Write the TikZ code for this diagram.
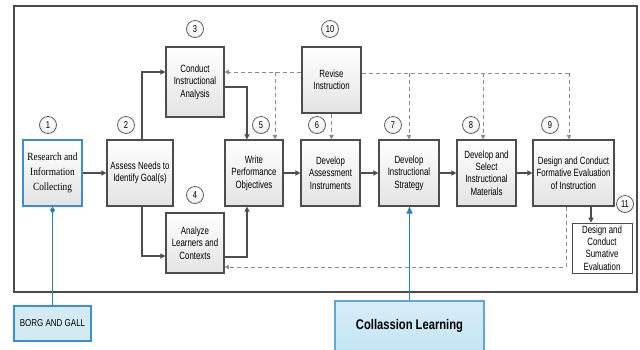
\documentclass[tikz,border=0pt]{standalone}
\usepackage{fontspec}
\setmainfont{Liberation Sans}
\newfontfamily\nar[FakeStretch=0.75]{Liberation Sans}
\newfontfamily\narb[FakeStretch=0.8]{Liberation Sans}
\newfontfamily\sernar[FakeStretch=0.85]{Liberation Serif}
\usetikzlibrary{arrows.meta,calc}
\definecolor{boxline}{HTML}{4D4D4D}
\definecolor{frameline}{HTML}{4A4A4A}
\definecolor{dashc}{HTML}{8C8C8C}
\definecolor{blueb}{HTML}{3A8ED4}
\definecolor{bluec}{HTML}{2E7DBE}
\definecolor{borgfill}{HTML}{D3EAF3}
\definecolor{collfill}{HTML}{C4E5F4}
\definecolor{collbd}{HTML}{62A6D6}
\begin{document}
\begin{tikzpicture}[x=1pt,y=-1pt,
  box/.style={draw=boxline, line width=1.2pt, top color=white, bottom color=gray!22,
    align=center, inner sep=0pt, font=\nar\fontsize{10.5}{12.3}\selectfont},
  circ/.style={circle, draw=gray!75!black, line width=0.8pt, top color=white, bottom color=gray!12,
    inner sep=0pt, minimum size=17pt, font=\nar\fontsize{10}{10}\selectfont},
  conn/.style={draw=boxline, line width=1.3pt, -{Triangle[length=5pt,width=5pt]}},
  dline/.style={draw=dashc, line width=1pt, dash pattern=on 4pt off 3pt},
  dconn/.style={dline, -{Triangle[length=4.5pt,width=4.5pt]}},
  bconn/.style={draw=bluec, line width=1.3pt}
]
\useasboundingbox (0,0) rectangle (640,349);
\fill[white] (0,0) rectangle (640,349);
% outer frame
\draw[frameline, line width=2.5pt] (14,6) rectangle (637,292);

% boxes
\node[box, draw=blueb, minimum width=59pt, minimum height=66pt,
  font=\sernar\fontsize{11}{15}\selectfont] (n1) at (52.5,173) {Research and\\Information\\Collecting};
\node[box, minimum width=66pt, minimum height=66pt] (n2) at (140,173) {Assess Needs to\\Identify Goal(s)};
\node[box, minimum width=58pt, minimum height=70pt] (n3) at (195,82) {Conduct\\Instructional\\Analysis};
\node[box, minimum width=58pt, minimum height=60pt] (n4) at (195,243) {Analyze\\Learners and\\Contexts};
\node[box, minimum width=58pt, minimum height=66pt] (n5) at (254,173) {Write\\Performance\\Objectives};
\node[box, minimum width=59pt, minimum height=66pt] (n6) at (330.5,173) {Develop\\Assessment\\Instruments};
\node[box, minimum width=59pt, minimum height=66pt] (n10) at (331.5,80) {Revise\\Instruction};
\node[box, minimum width=60pt, minimum height=66pt] (n7) at (409,173) {Develop\\Instructional\\Strategy};
\node[box, minimum width=59pt, minimum height=66pt] (n8) at (486.5,173) {Develop and\\Select\\Instructional\\Materials};
\node[box, minimum width=81pt, minimum height=66pt] (n9) at (573.5,173) {Design and Conduct\\Formative Evaluation\\of Instruction};
\node[draw=boxline, line width=0.8pt, fill=white, align=center, inner sep=0pt,
  minimum width=60pt, minimum height=50pt, font=\nar\fontsize{10.5}{12.4}\selectfont] (n11) at (602,248)
  {Design and\\Conduct\\Sumative\\Evaluation};

\node[draw=blueb, line width=1.3pt, fill=borgfill, minimum width=77pt, minimum height=35pt,
  inner sep=0pt, font=\narb\fontsize{10}{11}\selectfont] (borg) at (52.5,323.5) {BORG AND GALL};
\node[draw=collbd, line width=1.3pt, top color=collfill!70!white, bottom color=collfill,
  minimum width=149pt, minimum height=50pt, inner sep=0pt,
  font=\narb\bfseries\fontsize{14}{16}\selectfont] (coll) at (409.5,326) {Collassion Learning};

% number circles
\node[circ] (c1) at (48,125) {1};
\node[circ] (c2) at (126,125) {2};
\node[circ] (c3) at (195,29) {3};
\node[circ] (c4) at (195,195) {4};
\node[circ] (c5) at (261,125) {5};
\node[circ] (c6) at (317,125) {6};
\node[circ] (c10) at (330,29) {10};
\node[circ] (c7) at (393,125) {7};
\node[circ] (c8) at (471,125) {8};
\node[circ] (c9) at (550,125) {9};
\node[circ] (c11) at (625,204) {11};

% solid connectors
\draw[conn] (n1.east) -- (n2.west);
\draw[conn] ([xshift=2pt]n2.north) |- ([yshift=10pt]n3.west);
\draw[conn] ([xshift=2pt]n2.south) |- ([yshift=-13pt]n4.west);
\draw[conn] ([yshift=-5pt]n3.east) -| ([xshift=-7pt]n5.north);
\draw[conn] ([yshift=-14pt]n4.east) -| ([xshift=-7pt]n5.south);
\draw[conn] (n5.east) -- (n6.west);
\draw[conn] (n6.east) -- (n7.west);
\draw[conn] (n7.east) -- (n8.west);
\draw[conn] (n8.east) -- (n9.west);
\draw[conn] ([xshift=17.5pt]n9.south) -- ([xshift=17.5pt]n9.south |- n11.north);

% dashed feedback
\coordinate (j1) at (275,72);
\coordinate (j2) at (409,73);
\coordinate (j3) at (483,73);
\coordinate (j4) at (569,73);
\draw[dconn] ([yshift=8pt]n10.west) -- ([yshift=10pt]n3.east);
\draw[dconn] (j1) -- (j1 |- n5.north);
\draw[dconn] (n10.south) -- (n10.south |- n6.north);
\draw[dline] ([yshift=7pt]n10.east) -- (j4);
\draw[dconn] (j2) -- (j2 |- n7.north);
\draw[dconn] (j3) -- (j3 |- n8.north);
\draw[dconn] (j4) -- (j4 |- n9.north);
\draw[dconn] ([xshift=-7.5pt]n9.south) |- ([yshift=-24pt]n4.east);

% blue links
\draw[bconn, -{Diamond[length=7pt,width=5pt]}] (borg.north) -- (n1.south);
\draw[bconn, -{Triangle[length=7pt,width=6pt]}] (coll.north) -- (coll.north |- n7.south);
\end{tikzpicture}
\end{document}
